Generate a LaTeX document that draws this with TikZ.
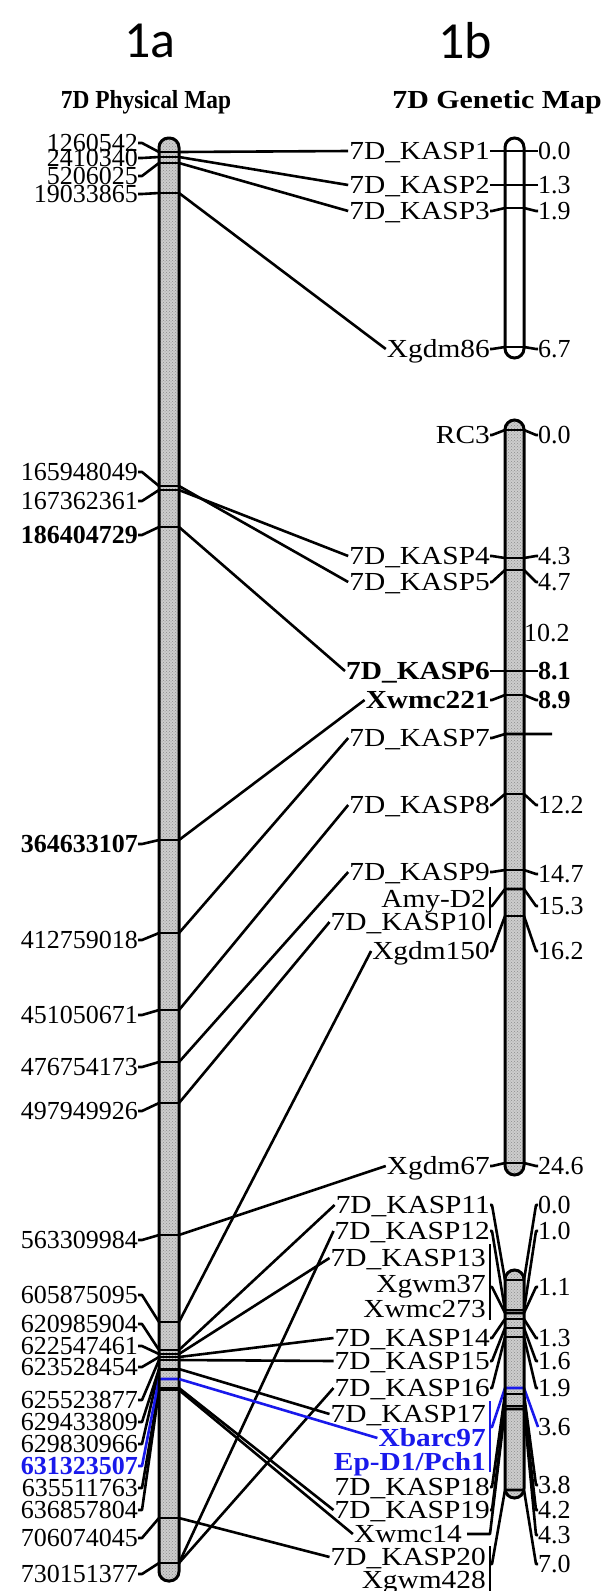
\documentclass[tikz,border=0pt]{standalone}
\usepackage{fontspec}
\usetikzlibrary{patterns}
\setmainfont{Liberation Serif}
\newfontfamily\panelfont{Carlito}
\newfontfamily\genfont[FakeStretch=1.13]{Liberation Serif}
\newfontfamily\ptitlefont[FakeStretch=0.9]{Liberation Serif}
\newfontfamily\gtitlefont[FakeStretch=1.15]{Liberation Serif}
\definecolor{hlblue}{RGB}{25,25,235}
\definecolor{chrfill}{RGB}{205,205,205}
\newcommand\mapfont{\fontsize{26}{26}\selectfont}
\newcommand\genlabfont{\genfont\fontsize{26}{26}\selectfont}
\begin{document}
\begin{tikzpicture}[x=1pt,y=-1pt,
  lbl/.style={inner sep=0pt, font=\mapfont, text height=17pt, text depth=0pt},
  plab/.style={lbl, anchor=east},
  glab/.style={lbl, anchor=east, font=\genlabfont},
  vlab/.style={lbl, anchor=west},
  ln/.style={line width=2.6pt, line join=round},
  hltext/.style={text=hlblue},
  chr/.style={line width=3pt, rounded corners=9.5pt},
  shade/.style={fill=chrfill, rounded corners=9.5pt, postaction={pattern=crosshatch dots, pattern color=black!45}},
  ttl/.style={inner sep=0pt, text height=17pt, text depth=0pt},
  panel/.style={inner sep=0pt, font=\panelfont\fontsize{52}{52}\selectfont},
]
\useasboundingbox (0,0) rectangle (605,1591);

% panel letters and map titles
\node[panel] (pa) at (150,41) {1a};
\node[panel] (pb) at (465,41) {1b};
\node[ttl, font=\ptitlefont\fontsize{26}{26}\selectfont\bfseries] (tphys) at (146,100) {7D Physical Map};
\node[ttl, font=\gtitlefont\fontsize{26}{26}\selectfont\bfseries] (tgen) at (497,100) {7D Genetic Map};

% chromosome bodies
\path[shade] (159,138) rectangle (179,1581);
\fill[white, rounded corners=9.5pt] (505,138) rectangle (524,358);
\path[shade] (505,420) rectangle (524,1175);
\path[shade] (505,1270) rectangle (524,1498);

% ---------- physical map markers ----------
\foreach \n/\lab/\laby/\bandy in {
 p1/1260542/143/152, p2/2410340/158/157, p3/5206025/176/163, p4/19033865/194/193,
 p5/165948049/472/486, p6/167362361/501/490,
 p9/412759018/940/933, p10/451050671/1015/1010, p11/476754173/1067/1062, p12/497949926/1111/1103,
 p13/563309984/1240/1235, p14/605875095/1295/1322, p15/620985904/1324/1350, p16/622547461/1346/1354,
 p17/623528454/1367/1357, p18/625523877/1400/1360, p19/629433809/1422/1369, p20/629830966/1444/1370,
 p22/635511763/1488/1388, p23/636857804/1510/1390, p24/706074045/1538/1518, p25/730151377/1574/1563}
{
  \node[plab] (\n) at (138,\laby) {\lab};
  \coordinate (\n L) at (159,\bandy);
  \coordinate (\n R) at (179,\bandy);
  \draw[ln] (\n L) -- (\n R);
  \draw[ln] (\n.east) -- ++(4,0) -- (\n L);
}
\node[plab, font=\mapfont\bfseries] (p7) at (138,535) {186404729};
\coordinate (p7L) at (159,527); \coordinate (p7R) at (179,527);
\node[plab, font=\mapfont\bfseries] (p8) at (138,844) {364633107};
\coordinate (p8L) at (159,840); \coordinate (p8R) at (179,840);
\foreach \n in {p7,p8}{
  \draw[ln] (\n L) -- (\n R);
  \draw[ln] (\n.east) -- ++(4,0) -- (\n L);
}
\node[plab, hltext, font=\mapfont\bfseries] (p21) at (138,1466) {631323507};
\coordinate (p21L) at (159,1379); \coordinate (p21R) at (179,1379);
\draw[ln, hlblue] (p21.east) -- ++(4,0) -- (p21L) -- (p21R);

% ---------- genetic map markers ----------
\foreach \n/\lab/\laby/\bandy/\val/\valy in {
 g1/7D\_KASP1/151/151/0.0/151, g2/7D\_KASP2/185/185/1.3/185, g3/7D\_KASP3/211/208/1.9/211,
 g4/Xgdm86/349/347/6.7/349, g5/RC3/435/430/0.0/435, g6/7D\_KASP4/556/558/4.3/556,
 g7/7D\_KASP5/582/570/4.7/582, g11/7D\_KASP8/805/794/12.2/805, g12/7D\_KASP9/872/870/14.7/874,
 g15/Xgdm150/951/916/16.2/951, g16/Xgdm67/1166/1163/24.6/1166,
 g17/7D\_KASP11/1205/1280/0.0/1205, g18/7D\_KASP12/1231/1310/1.0/1231,
 g22/7D\_KASP14/1338/1319/1.3/1338, g23/7D\_KASP15/1361/1328/1.6/1361,
 g24/7D\_KASP16/1388/1337/1.9/1388, g28/7D\_KASP18/1487/1394/3.8/1485,
 g29/7D\_KASP19/1510/1406/4.2/1510}
{
  \node[glab] (\n) at (490,\laby) {\lab};
  \node[vlab] (\n v) at (538,\valy) {\val};
  \coordinate (\n L) at (505,\bandy);
  \coordinate (\n R) at (524,\bandy);
  \draw[ln] (\n L) -- (\n R);
  \draw[ln] (\n.east) -- ++(2,0) -- (\n L);
  \draw[ln] (\n v.west) -- ++(-2,0) -- (\n R);
}
% bold pair
\node[glab, font=\genlabfont\bfseries] (g8) at (490,671) {7D\_KASP6};
\node[vlab, font=\mapfont\bfseries] (g8v) at (538,671) {8.1};
\coordinate (g8L) at (505,671); \coordinate (g8R) at (524,671);
\node[glab, font=\genlabfont\bfseries] (g9) at (490,700) {Xwmc221};
\node[vlab, font=\mapfont\bfseries] (g9v) at (538,700) {8.9};
\coordinate (g9L) at (505,695); \coordinate (g9R) at (524,695);
\foreach \n in {g8,g9}{
  \draw[ln] (\n L) -- (\n R);
  \draw[ln] (\n.east) -- ++(2,0) -- (\n L);
  \draw[ln] (\n v.west) -- ++(-2,0) -- (\n R);
}
% marker whose position label sits apart
\node[glab] (g10) at (490,738) {7D\_KASP7};
\coordinate (g10L) at (505,734); \coordinate (g10R) at (524,734);
\coordinate (g10end) at (552,734);
\draw[ln] (g10.east) -- ++(2,0) -- (g10L) -- (g10R) -- (g10end);
\node[vlab] (f102) at (524,633) {10.2};

% Amy-D2 / 7D_KASP10 group
\node[glab] (g13) at (486,899) {Amy-D2};
\node[glab] (g14) at (486,922) {7D\_KASP10};
\node[vlab] (g13v) at (538,906) {15.3};
\coordinate (g13L) at (505,889); \coordinate (g13R) at (524,889);
\coordinate (b1a) at (490,887); \coordinate (b1b) at (490,928); \coordinate (b1m) at (490,906);
\draw[ln] (b1a) -- (b1b);
\draw[ln] (b1m) -- ++(2,0) -- (g13L) -- (g13R);
\draw[ln] (g13v.west) -- ++(-2,0) -- (g13R);

% 7D_KASP13 / Xgwm37 / Xwmc273 group
\node[glab] (g19) at (486,1258) {7D\_KASP13};
\node[glab] (g20) at (486,1284) {Xgwm37};
\node[glab] (g21) at (486,1309) {Xwmc273};
\node[vlab] (g19v) at (538,1287) {1.1};
\coordinate (g19L) at (505,1313); \coordinate (g19R) at (524,1313);
\coordinate (b2a) at (490,1244); \coordinate (b2b) at (490,1320); \coordinate (b2m) at (490,1287);
\draw[ln] (b2a) -- (b2b);
\draw[ln] (b2m) -- ++(2,0) -- (g19L) -- (g19R);
\draw[ln] (g19v.west) -- ++(-2,0) -- (g19R);

% 7D_KASP17 / Xbarc97 / Ep-D1/Pch1 group
\node[glab] (g25) at (486,1414) {7D\_KASP17};
\node[glab, hltext, font=\genlabfont\bfseries] (g26) at (486,1438) {Xbarc97};
\node[glab, hltext, font=\genlabfont\bfseries] (g27) at (486,1462) {Ep-D1/Pch1};
\node[vlab] (g26v) at (538,1427) {3.6};
\coordinate (g26L) at (505,1388); \coordinate (g26R) at (524,1388);
\coordinate (b3a) at (490,1401); \coordinate (b3b) at (490,1472); \coordinate (b3m) at (490,1427);
\draw[ln, hlblue] (b3a) -- (b3b);
\draw[ln, hlblue] (b3m) -- ++(2,0) -- (g26L) -- (g26R) -- (g26v.west);

% Xwmc14
\node[glab] (g30) at (462,1534) {Xwmc14};
\node[vlab] (g30v) at (538,1535) {4.3};
\coordinate (g30L) at (505,1409); \coordinate (g30R) at (524,1409);
\draw[ln] ([xshift=5pt]g30.east) -- (490,1534) -- (g30L) -- (g30R);
\draw[ln] (g30v.west) -- ++(-2,0) -- (g30R);

% 7D_KASP20 / Xgwm428 group
\node[glab] (g31) at (486,1557) {7D\_KASP20};
\node[glab] (g32) at (486,1580) {Xgwm428};
\node[vlab] (g31v) at (538,1564) {7.0};
\coordinate (g31L) at (505,1490); \coordinate (g31R) at (524,1490);
\coordinate (b4a) at (490,1546); \coordinate (b4b) at (490,1591); \coordinate (b4m) at (490,1564);
\draw[ln] (b4a) -- (b4b);
\draw[ln] (b4m) -- ++(2,0) -- (g31L) -- (g31R);
\draw[ln] (g31v.west) -- ++(-2,0) -- (g31R);

% chromosome outlines
\draw[chr] (159,138) rectangle (179,1581);
\draw[chr] (505,138) rectangle (524,358);
\draw[chr] (505,420) rectangle (524,1175);
\draw[chr] (505,1270) rectangle (524,1498);

% ---------- physical-to-genetic links ----------
\foreach \a/\b in {p1/g1, p2/g2, p3/g3, p4/g4, p5/g7, p6/g6, p7/g8, p8/g9, p9/g10,
  p10/g11, p11/g12, p12/g14, p13/g16, p14/g15, p15/g17, p16/g19, p17/g22, p18/g23,
  p19/g25, p22/g29, p23/g30, p24/g31, p25/g24, p25/g18}
{
  \draw[ln] (\a R) -- ([xshift=-1pt]\b.west);
}
\draw[ln, hlblue] (p21R) -- ([xshift=-1pt]g26.west);
\end{tikzpicture}
\end{document}
